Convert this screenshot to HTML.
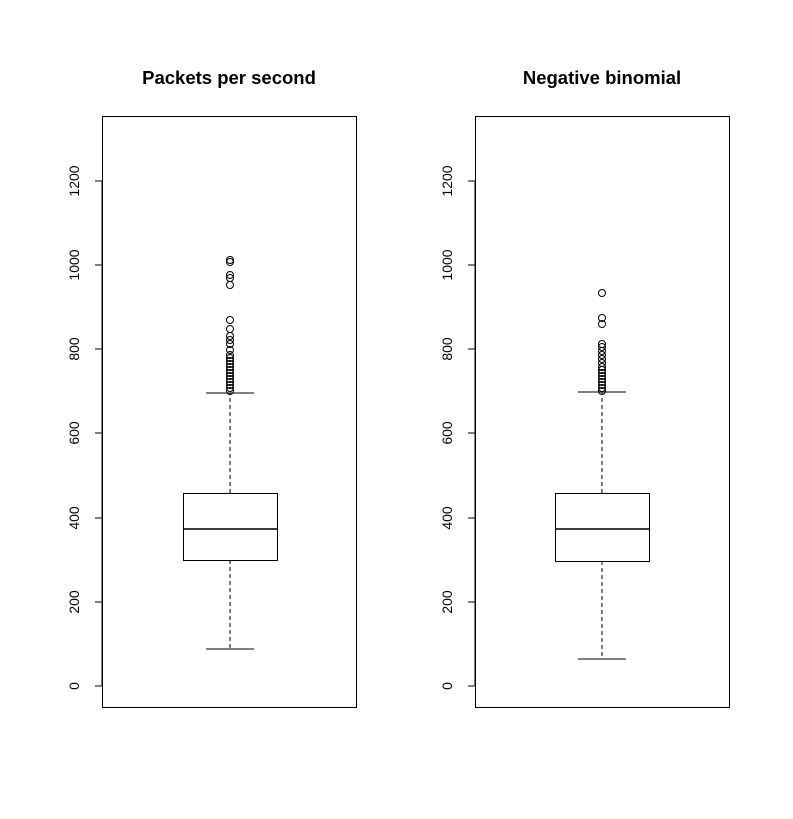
<!DOCTYPE html><html><head><style>body{margin:0;background:#fff}</style></head><body>
<svg width="793" height="814" xmlns="http://www.w3.org/2000/svg" font-family="Liberation Sans, sans-serif">
<rect width="793" height="814" fill="#fff"/>
<g fill="none" stroke="#000" stroke-width="1">
<rect x="102.5" y="116.5" width="254" height="591"/>
<rect x="475.5" y="116.5" width="254" height="591"/>
<path d="M102 686H95M102 602H95M102 518H95M102 433H95M102 349H95M102 265H95M102 181H95M102 181V686"/>
<path d="M475 686H468M475 602H468M475 518H468M475 433H468M475 349H468M475 265H468M475 181H468M475 181V686"/>
<rect x="183.5" y="493.5" width="94" height="67"/>
<path d="M183 529H277" stroke-width="1.5"/>
<path d="M230 493V393M230 560V649" stroke-dasharray="4,3"/>
<path d="M206 393H254M206 649H254"/>
<rect x="555.5" y="493.5" width="94" height="68"/>
<path d="M555 529H649" stroke-width="1.5"/>
<path d="M602 493V392M602 561V659" stroke-dasharray="4,3"/>
<path d="M578 392H626M578 659H626"/>
</g>
<g fill="none" stroke="#000" stroke-width="1">
<circle cx="230" cy="260" r="3.5"/><circle cx="230" cy="262" r="3.5"/><circle cx="230" cy="275" r="3.5"/><circle cx="230" cy="278" r="3.5"/><circle cx="230" cy="285" r="3.5"/><circle cx="230" cy="320" r="3.5"/><circle cx="230" cy="329" r="3.5"/><circle cx="230" cy="336" r="3.5"/><circle cx="230" cy="340" r="3.5"/><circle cx="230" cy="344" r="3.5"/><circle cx="230" cy="350" r="3.5"/><circle cx="230" cy="355" r="3.5"/>
<circle cx="230" cy="358" r="3.5"/><circle cx="230" cy="361" r="3.5"/><circle cx="230" cy="364" r="3.5"/><circle cx="230" cy="367" r="3.5"/><circle cx="230" cy="370" r="3.5"/><circle cx="230" cy="373" r="3.5"/><circle cx="230" cy="376" r="3.5"/><circle cx="230" cy="379" r="3.5"/><circle cx="230" cy="382" r="3.5"/><circle cx="230" cy="385" r="3.5"/><circle cx="230" cy="388" r="3.5"/><circle cx="230" cy="391" r="3.5"/>
<circle cx="602" cy="293" r="3.5"/><circle cx="602" cy="318" r="3.5"/><circle cx="602" cy="324" r="3.5"/><circle cx="602" cy="344" r="3.5"/><circle cx="602" cy="347" r="3.5"/><circle cx="602" cy="351" r="3.5"/><circle cx="602" cy="355" r="3.5"/><circle cx="602" cy="359" r="3.5"/><circle cx="602" cy="363" r="3.5"/><circle cx="602" cy="367" r="3.5"/><circle cx="602" cy="370" r="3.5"/><circle cx="602" cy="373" r="3.5"/><circle cx="602" cy="376" r="3.5"/><circle cx="602" cy="379" r="3.5"/><circle cx="602" cy="382" r="3.5"/><circle cx="602" cy="385" r="3.5"/><circle cx="602" cy="388" r="3.5"/><circle cx="602" cy="391" r="3.5"/>
</g>
<g font-size="14" text-anchor="middle">
<text transform="translate(79,686) rotate(-90)">0</text>
<text transform="translate(79,602) rotate(-90)">200</text>
<text transform="translate(79,518) rotate(-90)">400</text>
<text transform="translate(79,433) rotate(-90)">600</text>
<text transform="translate(79,349) rotate(-90)">800</text>
<text transform="translate(79,265) rotate(-90)">1000</text>
<text transform="translate(79,181) rotate(-90)">1200</text>
<text transform="translate(452,686) rotate(-90)">0</text>
<text transform="translate(452,602) rotate(-90)">200</text>
<text transform="translate(452,518) rotate(-90)">400</text>
<text transform="translate(452,433) rotate(-90)">600</text>
<text transform="translate(452,349) rotate(-90)">800</text>
<text transform="translate(452,265) rotate(-90)">1000</text>
<text transform="translate(452,181) rotate(-90)">1200</text>
</g>
<g font-size="18.5" font-weight="bold" text-anchor="middle">
<text x="229" y="84">Packets per second</text>
<text x="602" y="84">Negative binomial</text>
</g>
</svg></body></html>
